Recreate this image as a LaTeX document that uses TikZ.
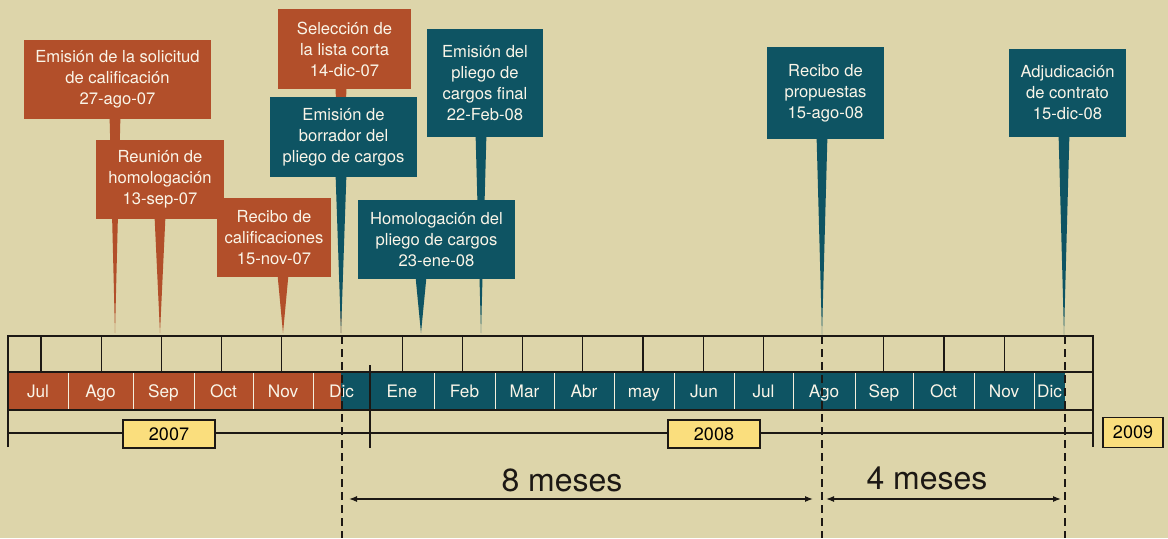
\documentclass[tikz,border=0pt]{standalone}
\usepackage{fontspec}
\setmainfont{TeX Gyre Heros}
\usetikzlibrary{arrows.meta}

\definecolor{paper}{RGB}{221,213,170}
\definecolor{rust}{RGB}{178,79,42}
\definecolor{petrol}{RGB}{14,84,99}
\definecolor{cream}{RGB}{250,245,232}
\definecolor{yearbox}{RGB}{250,222,125}
\definecolor{ink}{RGB}{28,24,20}

\pgfdeclarelayer{back}
\pgfdeclarelayer{pins}
\pgfsetlayers{back,pins,main}

\tikzset{
  hito/.style={align=center, text=cream, inner sep=0pt,
    font=\fontsize{8.3}{10.5}\selectfont},
  hito07/.style={hito, fill=rust},
  hito08/.style={hito, fill=petrol},
  mes/.style={anchor=base, text=cream, font=\fontsize{8.6}{10}\selectfont},
  anio/.style={draw=ink, line width=0.7pt, fill=yearbox, inner sep=0pt,
    font=\fontsize{9}{10}\selectfont},
  frame/.style={ink, line width=1.3pt},
  tick/.style={ink, line width=0.6pt},
  sepline/.style={cream!80!paper, line width=0.4pt},
  corte/.style={ink, line width=0.9pt, dash pattern=on 4pt off 2.5pt},
  span/.style={ink, line width=0.6pt, {Latex[length=4pt,width=3pt]}-{Latex[length=4pt,width=3pt]}},
  duracion/.style={anchor=base, text=ink, font=\fontsize{16}{18}\selectfont}
}

% pointer from a box down to a date on the timeline
\newcommand{\pin}[3]{%
  \path (#3 |- #2.south) coordinate (#2-top);
  \fill[#1] ([xshift=-2.7pt,yshift=1pt]#2-top) -- ([xshift=2.7pt,yshift=1pt]#2-top) -- (#3) -- cycle;}

\begin{document}
\begin{tikzpicture}[x=0.5pt, y=-0.5pt]
    % Background
    \begin{pgfonlayer}{back}
    \fill[paper] (0,0) rectangle (1168,538);
    \end{pgfonlayer}
    \useasboundingbox (0,0) rectangle (1168,538);

    % Dates on the timeline
    \coordinate (tA) at (115,333);
    \coordinate (tB) at (160,333);
    \coordinate (tC) at (283,333);
    \coordinate (tD) at (341,333);
    \coordinate (tE) at (341,333);
    \coordinate (tF) at (481,333);
    \coordinate (tG) at (421,333);
    \coordinate (tH) at (822,335);
    \coordinate (tI) at (1064,335);

    % Milestones 2007
    \node[hito07, minimum width=93.5pt, minimum height=39.5pt] (solicitud) at (117.5,79.5)
      {Emisión de la solicitud\\de calificación\\27-ago-07};
    \node[hito07, minimum width=64pt, minimum height=39.5pt] (reunion) at (160,179.5)
      {Reunión de\\homologación\\13-sep-07};
    \node[hito07, minimum width=57pt, minimum height=39.5pt] (califs) at (274,237.5)
      {Recibo de\\calificaciones\\15-nov-07};
    \node[hito07, minimum width=66.5pt, minimum height=40pt] (lista) at (344.5,49)
      {Selección de\\la lista corta\\14-dic-07};

    % Milestones 2008
    \node[hito08, minimum width=73.5pt, minimum height=40pt] (borrador) at (343.5,137)
      {Emisión de\\borrador del\\pliego de cargos};
    \node[hito08, minimum width=58pt, minimum height=54pt] (final) at (485,83)
      {Emisión del\\pliego de\\cargos final\\22-Feb-08};
    \node[hito08, minimum width=78.5pt, minimum height=39.5pt] (homolog) at (436.5,239.5)
      {Homologación del\\pliego de cargos\\23-ene-08};
    \node[hito08, minimum width=58.5pt, minimum height=46pt] (propuestas) at (825.5,93)
      {Recibo de\\propuestas\\15-ago-08};
    \node[hito08, minimum width=58.5pt, minimum height=44pt] (contrato) at (1067.5,93)
      {Adjudicación\\de contrato\\15-dic-08};

    % Pointers
    \begin{pgfonlayer}{pins}
    \pin{rust}{solicitud}{tA}
    \pin{rust}{reunion}{tB}
    \pin{rust}{califs}{tC}
    \pin{rust}{lista}{tD}
    \pin{petrol}{borrador}{tE}
    \pin{petrol}{final}{tF}
    \pin{petrol}{homolog}{tG}
    \pin{petrol}{propuestas}{tH}
    \pin{petrol}{contrato}{tI}
    \end{pgfonlayer}

    % Month bar
    \fill[rust] (8,372) rectangle (341,410);
    \fill[petrol] (341,372) rectangle (1065,410);
    \foreach \x in {68,133,194,253,313,434,495,554,614,674,734,793,855,913,974,1034}
      \draw[sepline] (\x,372) -- (\x,410);
    \foreach \a/\b/\lbl [count=\i] in {8/68/Jul, 68/133/Ago, 133/194/Sep, 194/253/Oct,
        253/313/Nov, 313/370/Dic, 370/434/Ene, 434/495/Feb, 495/554/Mar, 554/614/Abr,
        614/674/may, 674/734/Jun, 734/793/Jul, 793/855/Ago, 855/913/Sep, 913/974/Oct,
        974/1034/Nov, 1034/1065/Dic}
      \node[mes] (m\i) at ({(\a+\b)/2},397) {\lbl};

    % Top row of ticks
    \foreach \k in {0,1,2,3,4,6,7,8,9,10,11,12,14,15,16}
      \draw[tick] ({41+60.2*\k},336) -- ({41+60.2*\k},372);
    \draw[tick] (8,372) -- (1093,372);
    \draw[tick] (8,410) -- (1093,410);

    % Frame and years
    \draw[tick, line width=0.8pt] (8,433) -- (1093,433);
    \draw[frame] (8,447) -- (8,336) -- (1093,336) -- (1093,447);
    \draw[frame] (370,365) -- (370,448);
    \node[anio, minimum width=46pt, minimum height=14pt] (y2007) at (169,434) {2007};
    \node[anio, minimum width=46pt, minimum height=14pt] (y2008) at (714,434) {2008};
    \node[anio, minimum width=30pt, minimum height=15pt] (y2009) at (1133,432.5) {2009};

    % Cut lines
    \coordinate (c1) at (342,336);
    \coordinate (c2) at (822,336);
    \coordinate (c3) at (1065,336);
    \draw[corte] (c1) -- (c1 |- 0,538);
    \draw[corte] (c2) -- (c2 |- 0,538);
    \draw[corte] (c3) -- (c3 |- 0,538);

    % Durations
    \coordinate (s1) at (349,499);
    \coordinate (s2) at (813,499);
    \coordinate (s3) at (826,499);
    \coordinate (s4) at (1061,499);
    \draw[span] (s1) -- (s2);
    \draw[span] (s3) -- (s4);
    \node[duracion] (ocho) at (562,491) {8 meses};
    \node[duracion] (cuatro) at (927,489) {4 meses};
\end{tikzpicture}
\end{document}
